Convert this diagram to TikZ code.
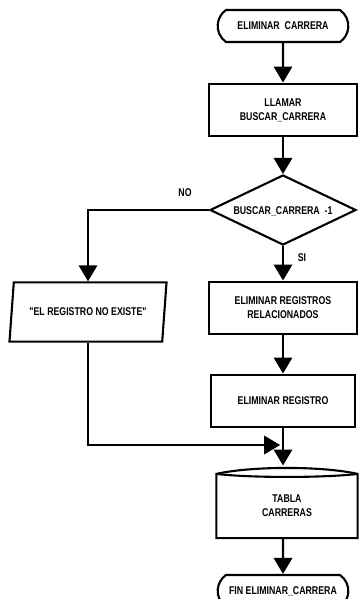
\documentclass[tikz,border=0pt]{standalone}
\usepackage{fontspec}
\newfontfamily\diagfont[FakeStretch=0.78]{Liberation Sans}
\usetikzlibrary{arrows.meta,shapes.geometric,shapes.misc}

\begin{document}
\begin{tikzpicture}[x=0.025cm, y=-0.025cm, >={Triangle[length=4mm,width=4.6mm]}, line width=1.5pt,
  every node/.style={font=\diagfont\bfseries\fontsize{8}{10}\selectfont, align=center},
  caja/.style={draw, minimum width=3.7cm, minimum height=1.32cm},
  terminal/.style={draw, rounded rectangle, rounded rectangle arc length=110, minimum width=3.5cm, minimum height=0.8cm},
  datos/.style={draw, trapezium, trapezium left angle=78, trapezium right angle=102, trapezium stretches=true, minimum width=3.93cm, minimum height=1.48cm}]
\useasboundingbox (0,0) rectangle (358,599);
\node[terminal] (inicio) at (283,26) {ELIMINAR\ \ CARRERA};
\node[caja] (llamar) at (283,110) {LLAMAR\\BUSCAR\_CARRERA};
\node[draw, diamond, inner sep=0pt, minimum width=3.65cm, minimum height=1.75cm] (buscar) at (283,210) {};
\node (condicion) at (283,211) {BUSCAR\_CARRERA\ \ -1};
\node (no) at (185,193) {NO}; \node (si) at (302,258) {SI};
\node[caja] (relacion) at (283,308) {ELIMINAR REGISTROS\\RELACIONADOS};
\node[caja, minimum width=3.6cm] (registro) at (283,401) {ELIMINAR REGISTRO};
\node[datos] (mensaje) at (88,312) {"EL REGISTRO NO EXISTE"};
\node[minimum width=3.48cm, minimum height=1.55cm] (tabla) at (287,506) {TABLA\\CARRERAS};
\node[terminal] (fin) at (283,591) {FIN ELIMINAR\_CARRERA};
\coordinate (union) at (283,445);
% tabla
\draw (tabla.north west) .. controls +(35,-8) and +(-35,-8) .. (tabla.north east) -- (tabla.south east) -- (tabla.south west) -- cycle;
\draw (tabla.north west) .. controls +(35,4) and +(-35,4) .. (tabla.north east);
% flechas
\draw[->] (inicio) -- (llamar); \draw[->] (llamar) -- (buscar);
\draw[->] (buscar) -- (relacion); \draw[->] (buscar.west) -| (mensaje.north);
\draw[->] (relacion) -- (registro); \draw[->, shorten >=6] (registro) -- (registro |- tabla.north);
\draw[->, shorten >=2pt] (mensaje.south) |- (union);
\draw[->] (tabla.south -| inicio) -- (fin);
\end{tikzpicture}
\end{document}
